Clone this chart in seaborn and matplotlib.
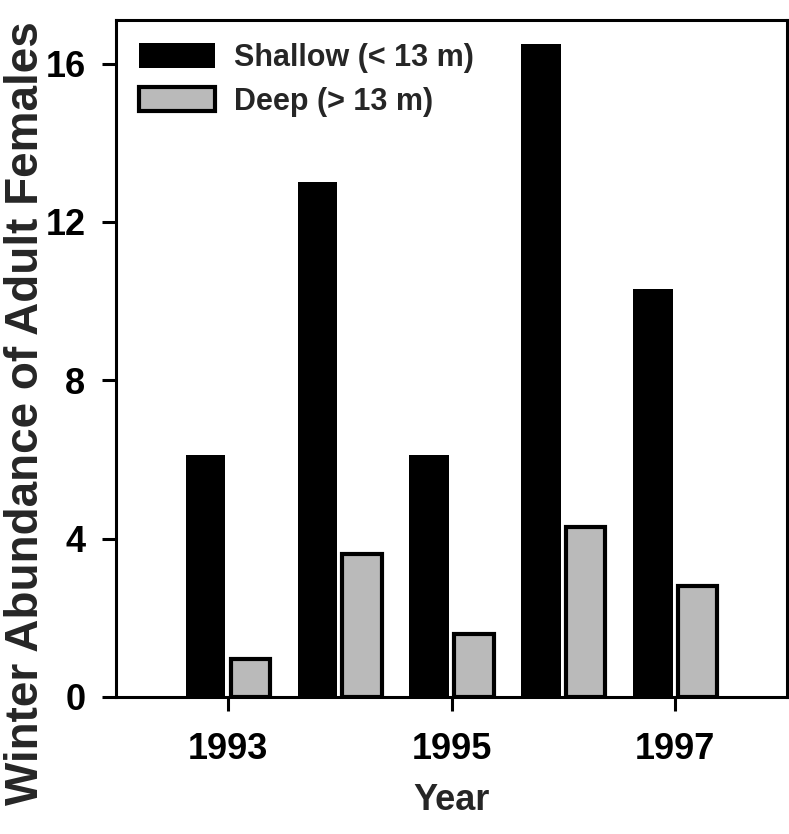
import matplotlib
matplotlib.use("Agg")
import matplotlib.pyplot as plt
from matplotlib.patches import Patch
import pandas as pd
import seaborn as sns

years = [1993, 1994, 1995, 1996, 1997]
shallow = [6.1, 13.0, 6.1, 16.5, 10.3]
deep = [0.95, 3.6, 1.6, 4.3, 2.8]
series = ["Shallow (< 13 m)", "Deep (> 13 m)"]
xticks = [1993, 1995, 1997]
yticks = [0, 4, 8, 12, 16]
colors = ["#000000", "#bababa"]

df = pd.DataFrame({
    "Year": years * 2,
    "Abundance": shallow + deep,
    "Depth": [series[0]] * len(years) + [series[1]] * len(years),
})

sns.set_theme(style="ticks")
plt.rcParams["font.family"] = ["Liberation Sans", "DejaVu Sans"]
plt.rcParams["font.weight"] = "bold"

fig = plt.figure(figsize=(7.89, 8.34), dpi=100)
ax = fig.add_axes([0.147, 0.1643, 0.8505, 0.8117])

sns.barplot(data=df, x="Year", y="Abundance", hue="Depth", hue_order=series,
            native_scale=True, palette=colors, saturation=1, width=0.8, gap=0.12,
            edgecolor="black", linewidth=0, ax=ax, legend=False)

for p in ax.containers[1].patches:
    p.set_linewidth(3)
    p.set_edgecolor("black")

ax.set_xlim(1992, 1998)
ax.set_ylim(0, 17.1)
ax.set_xticks(xticks)
ax.set_xticklabels([str(t) for t in xticks])
ax.set_yticks(yticks)
ax.set_yticklabels([str(t) for t in yticks])

for s in ax.spines.values():
    s.set_linewidth(2.2)
    s.set_color("black")

ax.tick_params(axis="both", direction="out", length=10, width=2.2, colors="black",
               labelsize=26)
ax.tick_params(axis="x", pad=15)
ax.tick_params(axis="y", pad=12)
for lab in ax.get_xticklabels() + ax.get_yticklabels():
    lab.set_fontweight("bold")

ax.set_xlabel("Year", fontsize=26, fontweight="bold", labelpad=12)
ax.set_ylabel("Winter Abundance of Adult Females", fontsize=33, fontweight="bold")
ax.yaxis.set_label_coords(-0.101, 0.42)

handles = [Patch(facecolor=colors[0], edgecolor="black", linewidth=0),
           Patch(facecolor=colors[1], edgecolor="black", linewidth=3)]
leg = ax.legend(handles, series, loc="upper left", frameon=False, fontsize=22,
                handlelength=2.5, handleheight=0.85, handletextpad=0.6,
                labelspacing=0.45, borderaxespad=0.35)
for t in leg.get_texts():
    t.set_fontweight("bold")

fig.savefig("out.png", dpi=100)
